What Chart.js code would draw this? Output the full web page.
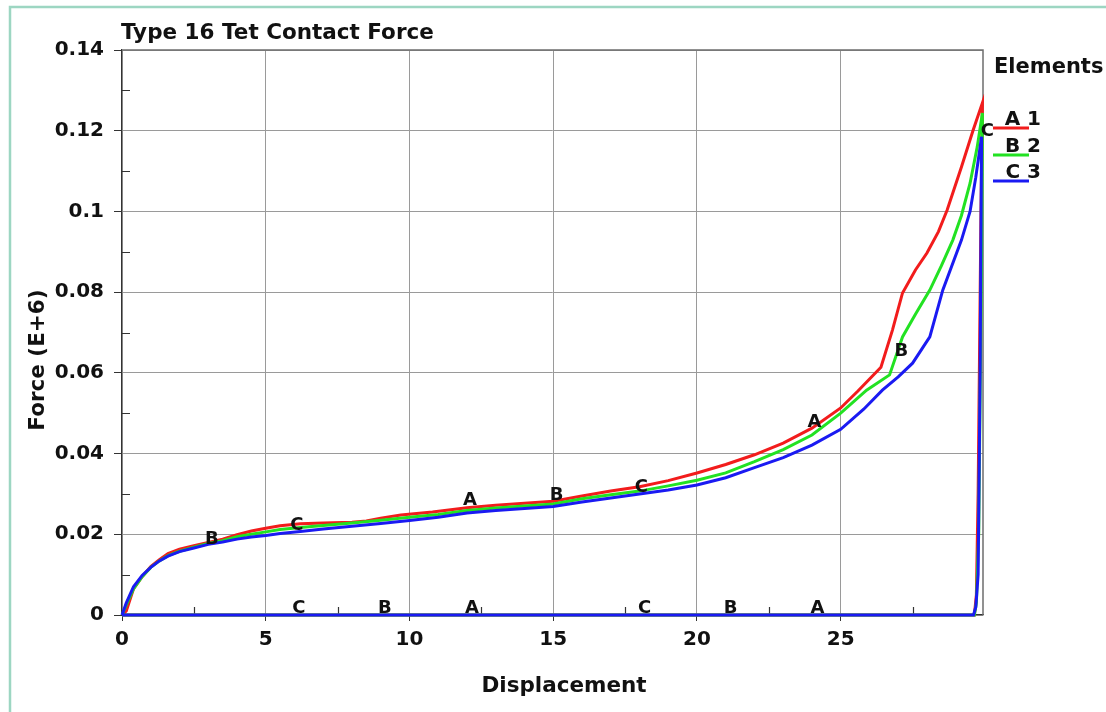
<!DOCTYPE html>
<html>
<head>
<meta charset="utf-8">
<title>Type 16 Tet Contact Force</title>
<script src="https://cdn.jsdelivr.net/npm/chart.js@4/dist/chart.umd.min.js"></script>
<style>
  html, body { margin: 0; padding: 0; background: #ffffff; }
  #wrap { position: relative; width: 1106px; height: 712px; }
  canvas { display: block; }
</style>
</head>
<body>
<div id="wrap"><canvas id="plot" width="1106" height="712"></canvas></div>
<script>
// ---- text ----
const chartTitle = 'Type 16 Tet Contact Force';
const xAxisTitle = 'Displacement';
const yAxisTitle = 'Force (E+6)';
const legendTitle = 'Elements';
const seriesNames = ['1', '2', '3'];
const seriesMarks = ['A', 'B', 'C'];

// ---- axes ----
const xMin = 0, xMax = 29.95, xStep = 5;
const yMin = 0, yMax = 0.14, yStep = 0.02;
const xMinorTicks = [2.5, 7.5, 12.5, 17.5, 22.5, 27.5];
const yMinorTicks = [0.01, 0.03, 0.05, 0.07, 0.09, 0.11, 0.13];

// ---- element 1 (A): loading, unloading, return along zero ----
const dispA = [0, 0.15, 0.4, 0.7, 1.0, 1.3, 1.6, 2.0, 2.5, 3.0, 3.5, 4.0, 4.5, 5.0, 5.5, 6.2, 7.0, 8.0, 8.5,
  9.0, 9.7, 10.8, 12.0, 13.0, 14.0, 15.0, 16.0, 17.0, 18.0, 19.0, 20.0, 21.0, 22.0, 23.0, 24.0, 25.0,
  25.6, 26.4, 26.8, 27.15, 27.6, 28.0, 28.4, 28.7, 29.2, 29.6, 29.93,
  29.88, 29.78, 29.72, 29.65, 0];
const forceA = [0, 0.001, 0.0065, 0.0095, 0.0120, 0.0137, 0.0152, 0.0163, 0.0172, 0.0180, 0.0188, 0.0199, 0.0208, 0.0215, 0.0221, 0.0226, 0.0228, 0.0230, 0.0233,
  0.0240, 0.0248, 0.0255, 0.0266, 0.0272, 0.0277, 0.0282, 0.0295, 0.0307, 0.0318, 0.0333, 0.0352, 0.0373, 0.0397, 0.0426, 0.0463, 0.0513,
  0.0555, 0.0614, 0.0706, 0.0798, 0.0855, 0.0897, 0.0950, 0.1003, 0.1110, 0.1200, 0.1269,
  0.100, 0.030, 0.005, 0, 0];

// ---- element 2 (B) ----
const dispB = [0, 0.15, 0.4, 0.7, 1.0, 1.3, 1.6, 2.0, 2.5, 3.0, 3.5, 4.0, 4.5, 5.0, 5.5, 6.2, 7.0, 8.0, 9.0,
  10.0, 11.0, 12.0, 13.0, 14.0, 15.0, 16.0, 17.0, 18.0, 19.0, 20.0, 21.0, 22.0, 23.0, 24.0, 25.0,
  25.9, 26.7, 27.15, 27.6, 28.1, 28.5, 28.9, 29.2, 29.5, 29.75, 29.93,
  29.9, 29.8, 29.72, 29.65, 0];
const forceB = [0, 0.0025, 0.0065, 0.0095, 0.0118, 0.0134, 0.0147, 0.0158, 0.0168, 0.0177, 0.0184, 0.0194, 0.0200, 0.0206, 0.0212, 0.0217, 0.0222, 0.0228, 0.0235,
  0.0242, 0.0249, 0.0259, 0.0265, 0.0270, 0.0275, 0.0288, 0.0298, 0.0307, 0.0320, 0.0334, 0.0352, 0.0380, 0.0410, 0.0446, 0.0500,
  0.0557, 0.0595, 0.0689, 0.0745, 0.0805, 0.0865, 0.0929, 0.0990, 0.1070, 0.1160, 0.1244,
  0.090, 0.020, 0.003, 0, 0];

// ---- element 3 (C) ----
const dispC = [0, 0.15, 0.4, 0.7, 1.0, 1.3, 1.6, 2.0, 2.5, 3.0, 3.5, 4.0, 4.5, 5.0, 5.5, 6.2, 7.0, 8.0, 9.0,
  10.0, 11.0, 12.0, 13.0, 14.0, 15.0, 16.0, 17.0, 18.0, 19.0, 20.0, 21.0, 22.0, 23.0, 24.0, 25.0,
  25.8, 26.45, 27.0, 27.5, 28.1, 28.55, 29.2, 29.5, 29.7, 29.9,
  29.85, 29.78, 29.7, 29.62, 0];
const forceC = [0, 0.003, 0.007, 0.0098, 0.0118, 0.0134, 0.0146, 0.0157, 0.0166, 0.0175, 0.0181, 0.0188, 0.0193, 0.0197, 0.0202, 0.0207, 0.0213, 0.0220, 0.0227,
  0.0234, 0.0242, 0.0253, 0.0259, 0.0264, 0.0269, 0.0280, 0.0290, 0.0300, 0.0310, 0.0322, 0.0340, 0.0365, 0.0390, 0.0421, 0.0460,
  0.0510, 0.0557, 0.0590, 0.0624, 0.0689, 0.0805, 0.0929, 0.1000, 0.1085, 0.1185,
  0.060, 0.010, 0.002, 0, 0];

// ---- curve identification marks (x, y in data units) ----
const marksA = [[12.10, 0.0268], [24.09, 0.0461], [24.19, 0], [12.17, 0]];
const marksB = [[3.13, 0.0169], [15.12, 0.0278], [27.11, 0.0637], [21.17, 0], [9.14, 0]];
const marksC = [[6.08, 0.0206], [18.07, 0.0300], [30.10, 0.1182], [18.18, 0], [6.15, 0]];

const seriesColors = ['#f21c1c', '#22e222', '#1a1af2'];
const FONT = "'DejaVu Sans', 'Liberation Sans', sans-serif";

function toPoints(xs, ys) {
  return xs.map((x, i) => ({ x: x, y: ys[i] }));
}

const series = [
  { pts: toPoints(dispA, forceA), marks: marksA },
  { pts: toPoints(dispB, forceB), marks: marksB },
  { pts: toPoints(dispC, forceC), marks: marksC }
];

// outer panel edge, frame, minor ticks, marks, titles and legend
const framePlugin = {
  id: 'frame',
  beforeDraw(chart) {
    const c = chart.ctx;
    c.save();
    c.fillStyle = '#ffffff';
    c.fillRect(0, 0, chart.width, chart.height);
    c.strokeStyle = '#9dd6c2';
    c.lineWidth = 2.5;
    c.beginPath();
    c.moveTo(10, chart.height + 5);
    c.lineTo(10, 7);
    c.lineTo(chart.width + 5, 7);
    c.stroke();
    c.restore();
  },
  beforeDatasetsDraw(chart) {
    const c = chart.ctx, a = chart.chartArea;
    const xs = chart.scales.x, ys = chart.scales.y;
    c.save();
    c.strokeStyle = '#6e6e6e';
    c.lineWidth = 1.5;
    c.beginPath();
    c.moveTo(a.left, a.top);
    c.lineTo(a.right, a.top);
    c.lineTo(a.right, a.bottom);
    c.stroke();
    c.strokeStyle = '#333333';
    c.lineWidth = 1.2;
    c.beginPath();
    xMinorTicks.forEach(v => {
      const p = Math.round(xs.getPixelForValue(v)) + 0.5;
      c.moveTo(p, a.bottom);
      c.lineTo(p, a.bottom - 8);
    });
    yMinorTicks.forEach(v => {
      const p = Math.round(ys.getPixelForValue(v)) + 0.5;
      c.moveTo(a.left, p);
      c.lineTo(a.left + 8, p);
    });
    c.stroke();
    c.restore();
  },
  afterDatasetsDraw(chart) {
    const c = chart.ctx;
    const xs = chart.scales.x, ys = chart.scales.y;
    c.save();
    c.fillStyle = '#111111';
    c.textAlign = 'center';
    c.textBaseline = 'middle';
    c.font = 'bold 18px ' + FONT;
    series.forEach((s, i) => {
      s.marks.forEach(m => {
        c.fillText(seriesMarks[i], xs.getPixelForValue(m[0]), ys.getPixelForValue(m[1]) - 7);
      });
    });

    // titles
    c.font = 'bold 21.5px ' + FONT;
    c.textBaseline = 'alphabetic';
    c.textAlign = 'left';
    c.fillText(chartTitle, 121, 39);
    c.textAlign = 'center';
    c.fillText(xAxisTitle, 564, 692);
    c.save();
    c.translate(38, 360);
    c.rotate(-Math.PI / 2);
    c.textBaseline = 'middle';
    c.fillText(yAxisTitle, 0, 0);
    c.restore();

    // legend
    c.font = 'bold 21px ' + FONT;
    c.textAlign = 'left';
    c.textBaseline = 'middle';
    c.fillText(legendTitle, 994, 68);
    c.font = 'bold 20px ' + FONT;
    const rows = [128, 155, 181];
    series.forEach((s, i) => {
      c.strokeStyle = seriesColors[i];
      c.lineWidth = 3;
      c.beginPath();
      c.moveTo(993, rows[i]);
      c.lineTo(1029, rows[i]);
      c.stroke();
      c.textAlign = 'right';
      c.fillStyle = '#111111';
      c.fillText(seriesMarks[i] + ' ' + seriesNames[i], 1041, rows[i] - 8);
    });
    c.restore();
  }
};

const tickFont = { family: FONT, size: 20, weight: 'bold' };

new Chart(document.getElementById('plot'), {
  type: 'line',
  data: {
    datasets: series.map((s, i) => ({
      label: seriesMarks[i] + ' ' + seriesNames[i],
      data: s.pts,
      borderColor: seriesColors[i],
      backgroundColor: seriesColors[i],
      borderWidth: 3,
      pointRadius: 0,
      tension: 0,
      fill: false,
      clip: 6,
      order: 3 - i
    }))
  },
  options: {
    responsive: false,
    animation: false,
    events: [],
    layout: { padding: { left: 0, top: 50, right: 123, bottom: 0 } },
    plugins: { legend: { display: false }, tooltip: { enabled: false }, title: { display: false } },
    scales: {
      x: {
        type: 'linear',
        min: xMin,
        max: xMax,
        afterFit(scale) { scale.height = 97; },
        ticks: {
          stepSize: xStep,
          includeBounds: false,
          maxRotation: 0,
          color: '#111111',
          font: tickFont,
          padding: 7
        },
        grid: { color: '#9a9a9a', lineWidth: 1, tickLength: 6, tickColor: '#333333' },
        border: { display: true, color: '#333333', width: 1.2 }
      },
      y: {
        type: 'linear',
        min: yMin,
        max: yMax,
        afterFit(scale) { scale.width = 122; },
        ticks: {
          stepSize: yStep,
          color: '#111111',
          font: tickFont,
          padding: 10,
          callback: v => String(+v.toFixed(2))
        },
        grid: { color: '#9a9a9a', lineWidth: 1, tickLength: 8, tickColor: '#333333' },
        border: { display: true, color: '#333333', width: 1.2 }
      }
    }
  },
  plugins: [framePlugin]
});
</script>
</body>
</html>
